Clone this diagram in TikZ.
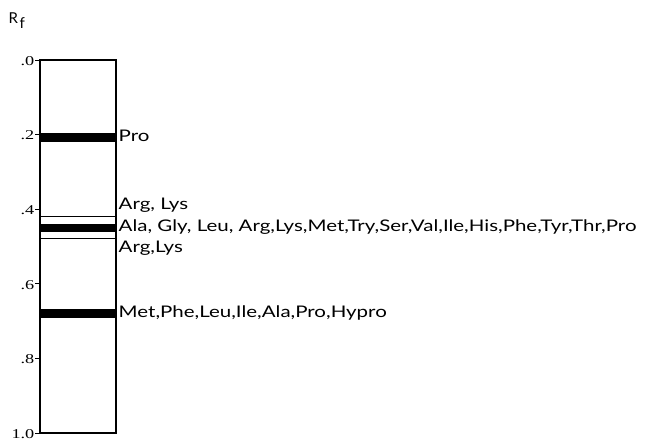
\documentclass[tikz,border=0pt]{standalone}
\usepackage{fontspec}
\setmainfont{Lato}
\newfontfamily\labfont[FakeStretch=1.28]{Lato}
\newfontfamily\numfont[FakeStretch=1.35]{Liberation Serif}
\begin{document}
\begin{tikzpicture}[x=1pt,y=-1pt,
  lbl/.style={anchor=base west,inner sep=0pt,font=\labfont\fontsize{16}{17}\selectfont},
  tlbl/.style={anchor=east,inner sep=0pt,font=\numfont\fontsize{13.5}{14}\selectfont},
  band/.style={fill=black},
  thin/.style={line width=1.3pt}]
\useasboundingbox (0,0) rectangle (645,443);
% axis title
\node[anchor=base west,inner sep=0pt,font=\fontsize{15}{16}\selectfont] (rf) at (8.5,23.5) {R\kern1.5pt\raisebox{-5.5pt}{\fontsize{15}{16}\selectfont f}};
% column
\draw[line width=1.3pt] (40,60) rectangle (116,433);
% ticks
\foreach \y/\t in {60/.0,134.6/.2,209.2/.4,283.8/.6,358.4/.8,433/1.0}{
  \draw[line width=0.8pt] (35,\y) -- (40,\y);
  \node[tlbl] at (34.5,\y+1) {\t};
}
% bands
\fill[band] (40,133) rectangle (116,142);
\draw[thin] (40,216.5) -- (116,216.5);
\fill[band] (40,224) rectangle (116,232);
\draw[thin] (40,238.5) -- (116,238.5);
\fill[band] (40,309) rectangle (116,318.5);
% labels
\node[lbl] (pro) at (118.5,142) {Pro};
\node[lbl] (arg1) at (118.5,210) {Arg, Lys};
\node[lbl] (ala) at (118.5,232) {Ala, Gly, Leu, Arg,Lys,Met,Try,Ser,Val,Ile,His,Phe,Tyr,Thr,Pro};
\node[lbl] (arg2) at (118.5,253) {Arg,Lys};
\node[lbl] (met) at (118.5,318) {Met,Phe,Leu,Ile,Ala,Pro,Hypro};
\end{tikzpicture}
\end{document}
